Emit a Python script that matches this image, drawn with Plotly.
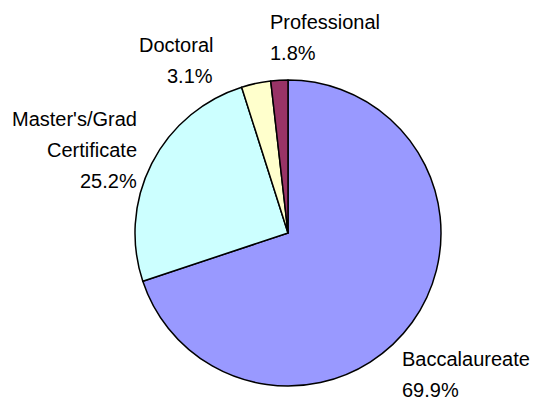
import plotly.graph_objects as go

W, H = 539, 407
OFF = 8  # page body margin shifts the figure
labels = ['Baccalaureate', "Master's/Grad Certificate", 'Doctoral', 'Professional']
label_lines = [['Baccalaureate'], ["Master's/Grad", 'Certificate'], ['Doctoral'], ['Professional']]
values = [69.9, 25.2, 3.1, 1.8]
colors = ['#9999FF', '#CCFFFF', '#FFFFCC', '#993366']

# label block placement in screen px: (x, first-line y, anchor)
label_pos = [(400, 359, 'left'), (139, 119, 'right'), (215, 45, 'right'), (268, 22, 'left')]
line_gap = 31

cx, cy, r = 288 - OFF, 233 - OFF, 153

fig = go.Figure(go.Pie(
    labels=labels, values=values, sort=False, direction='clockwise', rotation=0,
    marker=dict(colors=colors, line=dict(color='black', width=1.5)),
    textinfo='none', hoverinfo='label+percent', showlegend=False,
    domain=dict(x=[(cx - r) / W, (cx + r) / W], y=[(H - cy - r) / H, (H - cy + r) / H])))

font = dict(family='Liberation Sans, Arial, sans-serif', size=20, color='black')
for lines, v, (x, y, anchor) in zip(label_lines, values, label_pos):
    for i, t in enumerate(lines + [f'{v:.1f}%']):
        fig.add_annotation(x=(x - OFF) / W, y=1 - (y - OFF + i * line_gap) / H,
                           xref='paper', yref='paper', text=t, showarrow=False,
                           xanchor=anchor, yanchor='middle', font=font)

fig.update_layout(width=W, height=H, margin=dict(l=0, r=0, t=0, b=0),
                  paper_bgcolor='white', plot_bgcolor='white')
fig.write_html('out.html')
